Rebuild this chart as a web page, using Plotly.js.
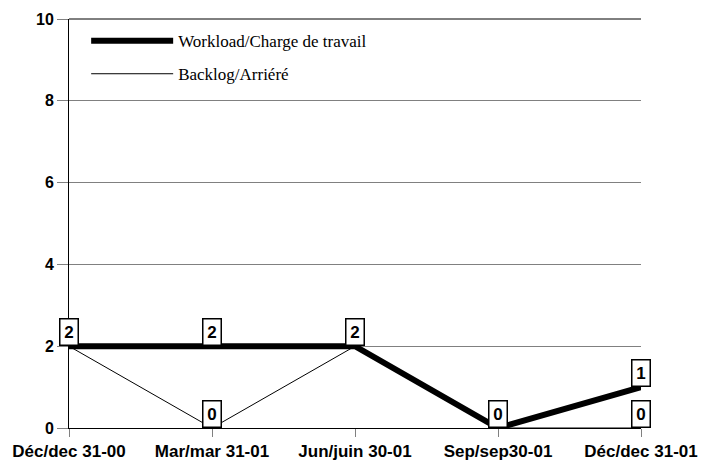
<!DOCTYPE html>
<html>
<head>
<meta charset="utf-8">
<script src="https://cdn.plot.ly/plotly-3.0.1.min.js"></script>
<style>
  html, body { margin: 0; padding: 0; background: #fff; }
  #chart { width: 711px; height: 464px; }
</style>
</head>
<body>
<div id="chart"></div>
<script>
const quarters = ['Déc/dec 31-00', 'Mar/mar 31-01', 'Jun/juin 30-01', 'Sep/sep30-01', 'Déc/dec 31-01'];
const workload = [2, 2, 2, 0, 1];
const backlog = [2, 0, 2, 0, 0];
const yTicks = [0, 2, 4, 6, 8, 10];

const labelFont = { family: 'Liberation Sans, Arial, sans-serif', size: 17, color: '#000' };

// value boxes: workload everywhere, backlog only where it differs
const annotations = [];
function addBox(x, v) {
    annotations.push({
        x: x, y: v, xref: 'x', yref: 'y',
        text: '<b>' + v + '</b>',
        showarrow: false,
        xanchor: 'center', yanchor: 'bottom',
        width: 13, height: 21,
        font: labelFont,
        bgcolor: '#fff', bordercolor: '#000',
        borderwidth: 1.5, borderpad: 2
    });
}
quarters.forEach((q, i) => {
    addBox(q, workload[i]);
    if (backlog[i] !== workload[i]) addBox(q, backlog[i]);
});

const data = [
    {
        x: quarters, y: workload,
        name: 'Workload/Charge de travail',
        type: 'scatter', mode: 'lines',
        line: { color: '#000', width: 6 },
        legendgroup: 'a', cliponaxis: false
    },
    {
        x: quarters, y: backlog,
        name: 'Backlog/Arriéré',
        type: 'scatter', mode: 'lines',
        line: { color: '#000', width: 1 },
        legendgroup: 'b', cliponaxis: false
    }
];

const layout = {
    width: 711, height: 464,
    margin: { l: 69, r: 70, t: 19, b: 36 },
    legend: {
        x: 0.03, y: 0.99, xanchor: 'left', yanchor: 'top',
        bgcolor: 'rgba(0,0,0,0)',
        itemwidth: 82,
        traceorder: 'grouped', tracegroupgap: 8,
        font: { family: 'Liberation Serif, Times New Roman, serif', size: 17, color: '#000' }
    },
    xaxis: {
        type: 'category',
        range: [0, quarters.length - 1],
        showgrid: false, zeroline: false,
        showline: true, linecolor: '#000',
        ticks: 'outside', ticklen: 8, tickcolor: '#808080',
        automargin: false,
        tickfont: { family: 'Liberation Sans, Arial, sans-serif', size: 17, color: '#000', weight: 'bold' }
    },
    yaxis: {
        range: [0, 10], tickvals: yTicks,
        showgrid: true, gridcolor: '#808080', zeroline: false,
        showline: true, linecolor: '#000',
        ticks: 'outside', ticklen: 11, tickcolor: '#808080',
        automargin: false,
        tickfont: { family: 'Liberation Sans, Arial, sans-serif', size: 16, color: '#000', weight: 'bold' }
    },
    shapes: [
        // black line along the top of the plot
        { type: 'line', xref: 'paper', yref: 'paper', x0: 0, x1: 1, y0: 1, y1: 1,
          line: { color: '#000', width: 1 } }
    ],
    annotations: annotations
};

Plotly.newPlot('chart', data, layout, { displayModeBar: false, staticPlot: true });
</script>
</body>
</html>
